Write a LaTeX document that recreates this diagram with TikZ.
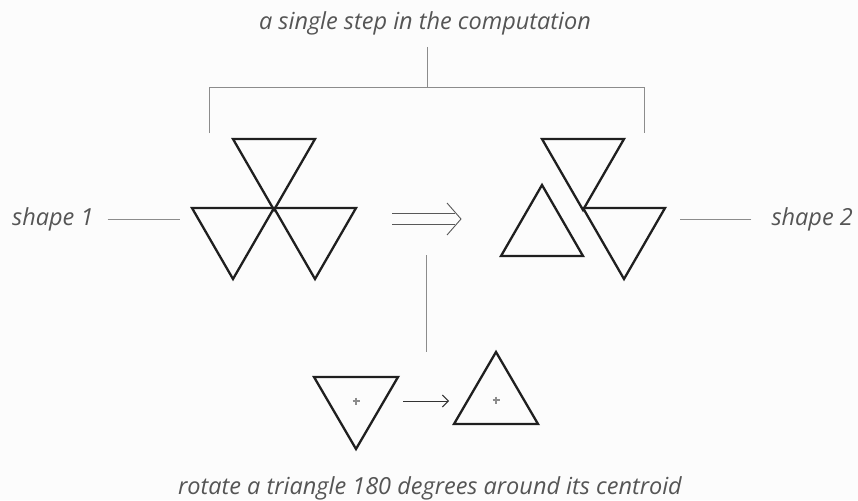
\documentclass[tikz,border=0pt]{standalone}
\usepackage{fontspec}
\setmainfont{Open Sans}
\usetikzlibrary{arrows.meta, positioning, calc}
\definecolor{inkgrey}{RGB}{85,85,85}
\definecolor{rulegrey}{RGB}{140,140,140}

\begin{document}
\begin{tikzpicture}[x=1pt, y=-1pt,
  tri/.style={draw=black!88, line width=2.3pt},
  rule/.style={draw=rulegrey, line width=0.9pt},
  lbl/.style={text=inkgrey, font=\fontsize{23.5}{27}\selectfont\itshape, inner sep=0pt}]
  \fill[black!1] (0,0) rectangle (858,500);
  % labels
  \node[lbl] (step) at (425,23) {a single step in the computation};
  \node[lbl, anchor=west] (shp1) at (12,219) {shape 1};
  \node[lbl, anchor=east] (shp2) at (853,219) {shape 2};
  \node[lbl] (rot) at (430,488) {rotate a triangle 180 degrees around its centroid};
  % bracket over both shapes
  \coordinate (stepfoot) at (427,47);
  \coordinate (brtop) at (427,87);
  \coordinate (brl) at (209,133);
  \coordinate (brr) at (644,133);
  \draw[rule] (stepfoot) -- (brtop);
  \draw[rule] (brl) -- (brl |- brtop) -- (brr |- brtop) -- (brr);
  % leader lines to the shape labels
  \draw[rule] ([xshift=14pt]shp1.east) -- ++(72,0);
  \draw[rule] ([xshift=-20pt]shp2.west) -- ++(-71,0);
  % shape 1 and shape 2
  \foreach \x/\y in {233/139, 192/208, 274/208, 542/139, 583/208}
    \draw[tri] (\x,\y) -- ++(82,0) -- ++(-41,71) -- cycle;
  \draw[tri] (501,256) -- ++(82,0) -- ++(-41,-71) -- cycle;
  % implies arrow
  \coordinate (imptip) at (461,219);
  \draw[draw=black!65, line width=0.9pt] (392,213.5) -- (455,213.5) (392,224.5) -- (455,224.5);
  \draw[draw=black!65, line width=0.9pt] ($(imptip)+(-14,-16)$) -- (imptip) -- ++(-14,16);
  % rotation step
  \coordinate (stemtop) at (426,255);
  \coordinate (stembot) at (426,352);
  \draw[rule] (stemtop) -- (stembot);
  \draw[tri] (314,377) -- ++(84,0) -- ++(-42,72) -- cycle;
  \draw[tri] (454,424) -- ++(84,0) -- ++(-42,-72) -- cycle;
  \coordinate (cen1) at (356,401);
  \coordinate (cen2) at (496,400);
  \foreach \c in {cen1, cen2}
    \draw[rulegrey, line width=1.2pt] (\c) +(-3.5,0) -- +(3.5,0) (\c) +(0,-3.5) -- +(0,3.5);
  \draw[draw=black!80, line width=1pt, -{Straight Barb[length=6pt, width=12pt]}]
    ([xshift=47pt]cen1) -- ([xshift=93pt]cen1);
\end{tikzpicture}
\end{document}
